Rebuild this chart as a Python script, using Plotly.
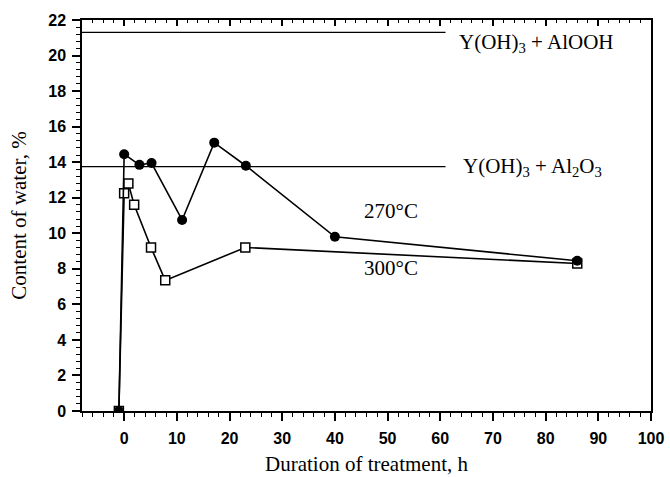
import plotly.graph_objects as go

# ---- data ----
t_270 = [-1, 0, 2.9, 5.2, 11.0, 17.1, 23.1, 40.0, 86.0]
w_270 = [0, 14.45, 13.85, 13.95, 10.75, 15.1, 13.8, 9.8, 8.45]

t_300 = [-1, 0, 0.8, 1.9, 5.1, 7.8, 23.0, 86.0]
w_300 = [0, 12.25, 12.8, 11.6, 9.2, 7.35, 9.2, 8.3]

ref_levels = [21.3, 13.75]
ref_labels = ["Y(OH)<sub>3</sub> + AlOOH", "Y(OH)<sub>3</sub> + Al<sub>2</sub>O<sub>3</sub>"]
ref_x = [-8, 61]

x_ticks = [0, 10, 20, 30, 40, 50, 60, 70, 80, 90, 100]
y_ticks = [0, 2, 4, 6, 8, 10, 12, 14, 16, 18, 20, 22]

serif = "Liberation Serif"
sans = "Liberation Sans"

fig = go.Figure()

for lvl in ref_levels:
    fig.add_trace(go.Scatter(x=ref_x, y=[lvl, lvl], mode="lines",
                             line=dict(color="black", width=1.3),
                             showlegend=False, hoverinfo="skip"))

fig.add_trace(go.Scatter(x=t_300, y=w_300, mode="lines+markers",
                         line=dict(color="black", width=1.6),
                         marker=dict(symbol="square", size=9, color="white",
                                     line=dict(color="black", width=1.5)),
                         showlegend=False))
fig.add_trace(go.Scatter(x=t_270, y=w_270, mode="lines+markers",
                         line=dict(color="black", width=1.6),
                         marker=dict(symbol="circle", size=10, color="black"),
                         showlegend=False))

# invisible trace for top axis
fig.add_trace(go.Scatter(x=[0], y=[0], xaxis="x2", mode="markers",
                         marker=dict(opacity=0), showlegend=False, hoverinfo="skip"))

fig.update_layout(
    width=670, height=477,
    margin=dict(l=82, r=19, t=20, b=66, autoexpand=False),
    paper_bgcolor="white", plot_bgcolor="white",
    xaxis=dict(range=[-8, 100], tickvals=x_ticks, ticks="outside", ticklen=8,
               tickwidth=1.5, tickcolor="black", automargin=False,
               minor=dict(dtick=2, tick0=0, ticks="outside", ticklen=4,
                          tickcolor="black", tickwidth=1.2),
               showline=True, linecolor="black", linewidth=1.5, mirror=True,
               showgrid=False, zeroline=False, ticklabelstandoff=4,
               tickfont=dict(family=sans, size=16, color="black", weight="bold"),
               title=dict(text="Duration of treatment, h",
                          font=dict(family=serif, size=21, color="black"),
                          standoff=10)),
    xaxis2=dict(range=[-8, 100], overlaying="x", side="top", tickvals=x_ticks,
                ticks="inside", ticklen=6, tickwidth=1.5, tickcolor="black",
                minor=dict(dtick=2, tick0=0, ticks="inside", ticklen=3,
                           tickcolor="black", tickwidth=1.2),
                showticklabels=False, showgrid=False, zeroline=False,
                showline=False, automargin=False),
    yaxis=dict(range=[0, 22], tickvals=y_ticks, ticks="outside", ticklen=8,
               tickwidth=1.5, tickcolor="black", automargin=False,
               minor=dict(dtick=0.4, tick0=0, ticks="outside", ticklen=4,
                          tickcolor="black", tickwidth=1.2),
               showline=True, linecolor="black", linewidth=1.5, mirror=True,
               showgrid=False, zeroline=False, ticklabelstandoff=3,
               tickfont=dict(family=sans, size=16, color="black", weight="bold"),
               title=dict(text="Content of water, %",
                          font=dict(family=serif, size=21, color="black"),
                          standoff=16)),
)

ann_font = dict(family=serif, size=21, color="black")
fig.add_annotation(x=63.1, y=20.7, text=ref_labels[0], showarrow=False,
                   xanchor="left", yanchor="middle", font=ann_font)
fig.add_annotation(x=64.0, y=13.75, text=ref_labels[1], showarrow=False,
                   xanchor="left", yanchor="middle", font=ann_font)
fig.add_annotation(x=50.6, y=11.25, text="270°C", showarrow=False,
                   xanchor="center", yanchor="middle", font=ann_font)
fig.add_annotation(x=50.6, y=8.05, text="300°C", showarrow=False,
                   xanchor="center", yanchor="middle", font=ann_font)

fig.write_html("out.html", config={"displayModeBar": False},
               post_script="document.body.style.margin='0';document.body.style.overflow='hidden';")
